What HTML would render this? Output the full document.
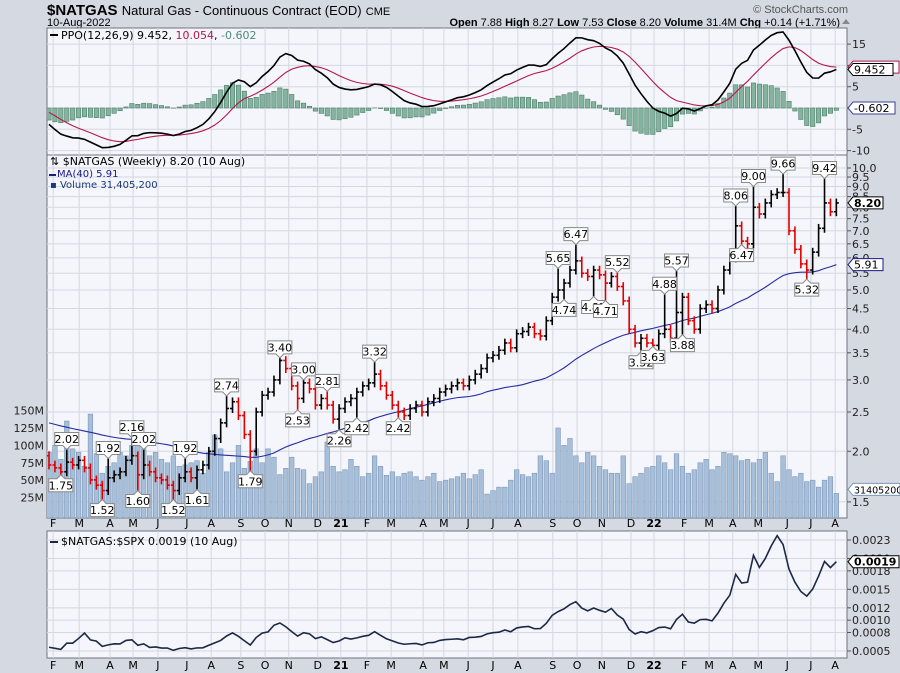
<!DOCTYPE html>
<html><head><meta charset="utf-8"><style>
html,body{margin:0;padding:0;background:#d5d9e2;}
svg{display:block;font-family:"DejaVu Sans","Liberation Sans",sans-serif;}
</style></head><body>
<svg id="c" width="900" height="673" viewBox="0 0 900 673" xmlns="http://www.w3.org/2000/svg">
<rect x="0" y="0" width="900" height="673" fill="#d5d9e2"/>
<text x="47" y="15" font-size="15" font-weight="bold" fill="#000" font-family="Liberation Sans, sans-serif">$NATGAS <tspan font-weight="normal" font-size="13">Natural Gas - Continuous Contract (EOD)</tspan> <tspan font-weight="normal" font-size="11">CME</tspan></text>
<text x="47" y="26" font-size="11" font-family="Liberation Sans, sans-serif">10-Aug-2022</text>
<text x="848" y="13" font-size="11" text-anchor="end" fill="#555" font-family="Liberation Sans, sans-serif">© StockCharts.com</text>
<text x="840" y="26" font-size="11" text-anchor="end" font-family="Liberation Sans, sans-serif"><tspan font-weight="bold">Open</tspan> 7.88  <tspan font-weight="bold">High</tspan> 8.27  <tspan font-weight="bold">Low</tspan> 7.53  <tspan font-weight="bold">Close</tspan> 8.20  <tspan font-weight="bold">Volume</tspan> 31.4M  <tspan font-weight="bold">Chg</tspan> +0.14 (+1.71%)</text>
<path d="M842 24 L846 19 L850 24 Z" fill="#888"/>
<g id="g"></g>
</svg>
<script>
const historyCloses=[2.65,2.6,2.6,2.55,2.6,2.5,2.45,2.35,2.3,2.35,2.3,2.3,2.2,2.25,2.15,2.2,2.2,2.15,2.2,2.15,2.1,2.25,2.35,2.5,2.55,2.45,2.3,2.25,2.4,2.6,2.75,2.8,2.65,2.4,2.3,2.5,2.3,2.2,2.15,1.95];
const closes=[1.85,1.82,1.78,1.88,1.85,1.9,1.82,1.7,1.65,1.6,1.72,1.75,1.78,1.9,1.95,1.75,1.85,1.78,1.72,1.7,1.65,1.6,1.72,1.78,1.72,1.8,1.85,2.0,2.15,2.35,
2.55,2.65,2.45,2.2,2.0,2.5,2.75,2.8,3.0,3.35,3.2,2.9,2.7,2.95,2.85,2.6,2.7,2.6,2.4,2.55,2.65,2.7,2.8,2.9,2.95,3.1,2.9,2.75,2.6,2.5,
2.45,2.55,2.6,2.5,2.65,2.7,2.8,2.85,2.9,2.95,2.9,3.0,3.1,3.2,3.4,3.45,3.55,3.7,3.6,3.9,3.95,4.05,3.9,3.85,4.2,4.8,5.0,5.2,5.6,
5.9,5.5,5.4,5.6,5.45,5.2,5.4,5.1,4.7,4.0,3.7,3.8,3.7,3.65,3.9,4.0,3.8,4.4,4.8,4.2,4.0,4.5,4.6,4.5,
5.0,5.6,6.0,7.2,6.6,6.5,8.0,7.7,8.2,8.6,8.7,8.7,7.0,6.3,5.8,5.6,6.2,7.1,8.2,7.8,8.2];
const volumesM=[90,100,80,135,95,90,70,145,88,60,70,75,90,85,100,110,95,85,90,80,75,85,70,72,75,78,60,90,115,95,
62,75,100,67,77,95,75,95,83,58,67,83,67,65,45,55,62,105,70,62,65,80,70,55,60,85,70,57,62,55,
60,62,55,50,55,60,48,50,52,55,60,52,58,65,30,35,40,40,50,65,58,55,60,85,78,60,125,100,110,85,
75,90,85,70,65,60,60,85,45,55,60,68,70,85,75,65,88,70,60,65,75,80,65,70,90,88,85,78,80,75,
80,90,60,48,85,65,55,60,48,50,40,50,55,31];
const spx=[3300,3350,3380,3000,2950,2700,2300,2500,2500,2780,2870,2840,2900,2830,2860,2950,3000,3190,3040,3100,3010,3130,3180,3220,3220,3270,3350,3370,3400,3500,
3430,3340,3320,3300,3350,3480,3480,3460,3270,3510,3580,3560,3640,3700,3660,3710,3700,3800,3770,3850,3710,3890,3930,3930,3910,3810,3840,3940,3910,3970,
4020,4130,4180,4180,4180,4230,4170,4160,4200,4230,4250,4170,4280,4350,4370,4330,4410,4400,4430,4460,4440,4510,4530,4460,4430,4450,4390,4390,4470,4540,4600,
4690,4680,4700,4600,4540,4710,4620,4720,4770,4680,4660,4400,4430,4500,4420,4350,4380,4330,4200,4460,4540,4550,4490,4390,4270,4130,4120,4020,3900,4150,
4100,3900,3670,3910,3830,3900,3960,4030,4120,4140,4200,4210,4210];
const hiLabelIdx=[3,10,14,16,23,30,39,43,47,55,86,89,96,104,106,116,119,124,131];
const hiLabelVal=[2.02,1.92,2.16,2.02,1.92,2.74,3.40,3.00,2.81,3.32,5.65,6.47,5.52,4.88,5.57,8.06,9.00,9.66,9.42];
const loLabelIdx=[2,9,15,21,25,34,42,49,52,59,87,92,94,100,102,107,117,128];
const loLabelVal=[1.75,1.52,1.60,1.52,1.61,1.79,2.53,2.26,2.42,2.42,4.74,4.82,4.71,3.52,3.63,3.88,6.47,5.32];
const monthLabels=["F","M","A","M","J","J","A","S","O","N","D","21","F","M","A","M","J","J","A","S","O","N","D","22","F","M","A","M","J","J","A"];
const monthIdx=[0.7,5.1,10.3,14.2,18.4,23.3,27.4,32.4,36.5,40.5,45.4,49.3,53.7,57.8,63.2,66.7,70.8,75,79.2,85.1,89.2,93.4,98.3,102.2,107.3,111.5,115.5,119.8,124.7,128.7,132.8];
const priceTicks=[10,9.5,9,8.5,8,7.5,7,6.5,6,5.5,5,4.5,4,3.5,3,2.5,2,1.5];
const volTicks=[150,125,100,75,50,25];
const ppoTicks=[15,10,5,0,-5,-10];
const ratioTicks=[0.0023,0.0020,0.0018,0.0015,0.0012,0.0010,0.0008,0.0005];

const NS="http://www.w3.org/2000/svg";
const G=document.getElementById('g');
function mk(tag,attrs,parent,text){const e=document.createElementNS(NS,tag);for(const k in attrs)e.setAttribute(k,attrs[k]);if(text!==undefined)e.textContent=text;(parent||G).appendChild(e);return e;}
const L=47,R=847;
const xI=i=>49+i*5.92;
const yP=v=>290-176*Math.log(v/5);
const yV=v=>515-v*0.696;
const yO=v=>108-v*4.26;
const yR=v=>651-(v-0.0005)*61667;
const panels=[[28,155,'ppo-panel'],[155,518,'price-panel'],[531,658,'ratio-panel']];
panels.forEach(p=>{const r=mk('rect',{x:L,y:p[0],width:R-L,height:p[1]-p[0],fill:'#f4f6fb',stroke:'#6d7380','stroke-width':1});

});
const defs=mk('defs',{});
panels.forEach((p,k)=>{const cp=mk('clipPath',{id:'cp'+k},defs);mk('rect',{x:L,y:p[0],width:R-L,height:p[1]-p[0]},cp);});
panels.forEach((p,k)=>{monthIdx.forEach((mi,j)=>{const gl=mk('line',{x1:xI(mi),x2:xI(mi),y1:p[0],y2:p[1],stroke:'#d3d7e0','stroke-width':1});

});});
[[523+4,'price-x-axis'],[665+4,'ratio-x-axis']].forEach(a=>{monthIdx.forEach((mi,j)=>{const t=mk('text',{x:xI(mi),y:a[0],'font-size':11,'text-anchor':'middle','font-weight':(monthLabels[j].length>1?'bold':'normal')},G,monthLabels[j]);

});});
function hgrid(vals,yf,fmt,y0,y1,name,side){vals.forEach(v=>{const y=yf(v);if(y<y0||y>y1)return;
const gl=mk('line',{x1:L,x2:R,y1:y,y2:y,stroke:'#d3d7e0'});


if(side==='r'){mk('line',{x1:R,x2:R+4,y1:y,y2:y,stroke:'#555'});}
const t=mk('text',{x:side==='r'?852:44,y:y+4,'font-size':11,'text-anchor':side==='r'?'start':'end',fill:'#222'},G,fmt(v));

});}
hgrid(ppoTicks,yO,v=>String(v),30,153,'ppo-y','r');
hgrid(priceTicks,yP,v=>v.toFixed(1),157,516,'price-y','r');
volTicks.forEach(v=>{const y=yV(v);const t=mk('text',{x:44,y:y+4,'font-size':11,'text-anchor':'end',fill:'#222'},G,v+'M');

});
hgrid(ratioTicks,yR,v=>v.toFixed(4),533,656,'ratio-y','r');

const full=historyCloses.concat(closes);
let e12=full[0],e26=full[0];const ppo=[];
full.forEach(c=>{e12=e12+(c-e12)*2/13;e26=e26+(c-e26)*2/27;ppo.push((e12-e26)/e26*100);});
let s=ppo[0];const sig=[];ppo.forEach(v=>{s=s+(v-s)*0.2;sig.push(s);});
const H=historyCloses.length;
const gP=mk('g',{'clip-path':'url(#cp0)'});
closes.forEach((c,i)=>{const h=ppo[i+H]-sig[i+H];const y0=yO(0),y1=yO(h);
const b=mk('rect',{x:xI(i)-2.2,y:Math.min(y0,y1),width:4.4,height:Math.abs(y1-y0),fill:'#84b4a0',stroke:'#4d7d68','stroke-width':0.6},gP);

});
const sp=closes.map((c,i)=>xI(i)+','+yO(sig[i+H])).join(' ');
const sl=mk('polyline',{points:sp,fill:'none',stroke:'#b5184c','stroke-width':1.1},gP);


const pp=closes.map((c,i)=>xI(i)+','+yO(ppo[i+H])).join(' ');
const pl=mk('polyline',{points:pp,fill:'none',stroke:'#000','stroke-width':1.6},gP);



const gV=mk('g',{'clip-path':'url(#cp1)'});
volumesM.forEach((v,i)=>{const b=mk('rect',{x:xI(i)-2.3,y:yV(v),width:4.6,height:515-yV(v)+3,fill:'#a8bfda',stroke:'#7d97b8','stroke-width':0.6},gV);

});
const ma=closes.map((c,i)=>{let sum=0;for(let k=i+H-39;k<=i+H;k++)sum+=full[k];return sum/40;});
const mal=mk('polyline',{points:ma.map((v,i)=>xI(i)+','+yP(v)).join(' '),fill:'none',stroke:'#2a2aa0','stroke-width':1.1},gV);


closes.forEach((c,i)=>{const o=i===0?historyCloses[H-1]:closes[i-1];
let hi=Math.max(o,c)*1.025,lo=Math.min(o,c)*0.975;
const hj=hiLabelIdx.indexOf(i);if(hj>=0)hi=hiLabelVal[hj];
const lj=loLabelIdx.indexOf(i);if(lj>=0)lo=loLabelVal[lj];
const col=c>=o?'#000':'#e00000';const x=xI(i);
const b=mk('g',{stroke:col,'stroke-width':1.6},gV);


mk('line',{x1:x,x2:x,y1:yP(hi),y2:yP(lo)},b);
mk('line',{x1:x-2.5,x2:x,y1:yP(o),y2:yP(o)},b);
mk('line',{x1:x,x2:x+2.5,y1:yP(c),y2:yP(c)},b);});
function flag(i,v,up){const x=xI(i),y=yP(v);const w=24,h=13;
const g=mk('g',{});


let by,d;if(up){by=y-4-h;d=`M${x-w/2} ${by}h${w}v${h}h${-w/2+4}l-4 4l-4 -4h${-w/2+4}z`;}
else{by=y+4;d=`M${x-w/2} ${by}h${w/2-4}l4 -4l4 4h${w/2-4}v${h}h${-w}z`;}
mk('path',{d:d,fill:'#fff',stroke:'#888','stroke-width':1},g);
mk('text',{x:x,y:by+10.5,'font-size':11,'text-anchor':'middle'},g,v.toFixed(2));}
hiLabelIdx.forEach((i,k)=>flag(i,hiLabelVal[k],true));
loLabelIdx.forEach((i,k)=>flag(i,loLabelVal[k],false));

const ratio=closes.map((c,i)=>c/spx[i]);
const rl=mk('polyline',{points:ratio.map((v,i)=>xI(i)+','+yR(v)).join(' '),fill:'none',stroke:'#1c2846','stroke-width':1.6,'clip-path':'url(#cp2)'});



function tag(y,txt,stroke,bold,name,w,fs){const g=mk('g',{});


mk('path',{d:`M${R+1} ${y}l5 -6h${w}v12h${-w}z`,fill:'#fff',stroke:stroke,'stroke-width':1},g);
mk('text',{x:R+7,y:y+4,'font-size':fs||11,'font-weight':bold?'bold':'normal'},g,txt);}
tag(yO(sig[sig.length-1]),'10.054','#b5184c',false,'ppo-signal-tag',46);
tag(yO(ppo[ppo.length-1]),'9.452','#000',false,'ppo-value-tag',40);
tag(yO(0),'-0.602','#3a3f9a',false,'ppo-hist-tag',42);
tag(yP(closes[closes.length-1]),'8.20','#000',true,'price-tag',30);
tag(yP(ma[ma.length-1]),'5.91','#1a1a8a',false,'ma-tag',30);
tag(yV(volumesM[volumesM.length-1])-4,'31405200','#7d97b8',false,'volume-tag',47,9.5);
tag(yR(ratio[ratio.length-1]),'0.0019','#000',true,'ratio-tag',46);

function leg(x,y,parts,name,fs){const t=mk('text',{x:x,y:y,'font-size':fs||11});


parts.forEach(p=>{mk('tspan',{fill:p[1]},t,p[0]);});}
mk('rect',{x:50,y:34,width:8,height:2,fill:'#000'});
leg(61,39,[['PPO(12,26,9) 9.452, ','#000'],['10.054','#b5184c'],[', ','#000'],['-0.602','#4d8d78']],'ppo-legend');
leg(50,165,[['⇅ $NATGAS (Weekly) 8.20 (10 Aug)','#000']],'price-legend');
mk('rect',{x:49,y:174,width:7,height:2,fill:'#1a1a8a'});
leg(57,177,[['MA(40) 5.91','#1a1a8a']],'ma-legend',10);
leg(50,188,[['▪ Volume 31,405,200','#1a3a7a']],'volume-legend',10);
mk('rect',{x:50,y:541,width:8,height:2,fill:'#1c2846'});
leg(61,545,[['$NATGAS:$SPX 0.0019 (10 Aug)','#000']],'ratio-legend');
</script>
</body></html>
